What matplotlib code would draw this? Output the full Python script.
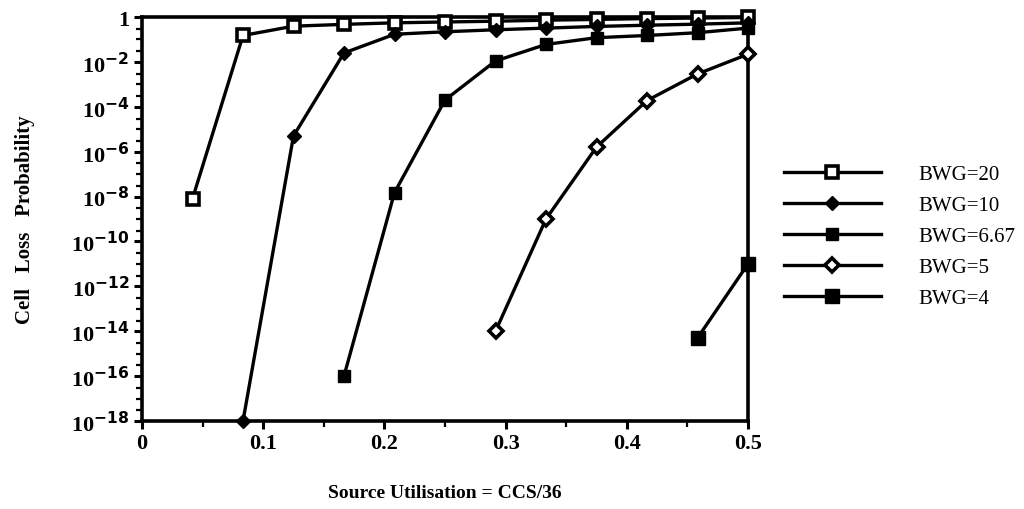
import matplotlib
matplotlib.use("Agg")
import matplotlib.pyplot as plt
from matplotlib.ticker import FixedLocator, LogLocator, NullFormatter, MultipleLocator

# Source utilisation (CCS/36) for CCS = 1.5, 3, ..., 18
util_20 = [1/24, 2/24, 3/24, 4/24, 5/24, 6/24, 7/24, 8/24, 9/24, 10/24, 11/24, 12/24]
clp_20 = [8e-9, 0.15, 0.39, 0.47, 0.55, 0.6, 0.65, 0.72, 0.78, 0.85, 0.9, 0.95]

util_10 = [2/24, 3/24, 4/24, 5/24, 6/24, 7/24, 8/24, 9/24, 10/24, 11/24, 12/24]
clp_10 = [1e-18, 5e-6, 0.025, 0.17, 0.22, 0.27, 0.32, 0.38, 0.43, 0.48, 0.55]

util_667 = [4/24, 5/24, 6/24, 7/24, 8/24, 9/24, 10/24, 11/24, 12/24]
clp_667 = [1e-16, 1.5e-8, 2e-4, 1.1e-2, 0.06, 0.12, 0.15, 0.2, 0.32]

util_5 = [7/24, 8/24, 9/24, 10/24, 11/24, 12/24]
clp_5 = [1e-14, 1e-9, 1.6e-6, 1.9e-4, 2.9e-3, 0.022]

util_4 = [11/24, 12/24]
clp_4 = [5e-15, 1e-11]

labels = ["BWG=20", "BWG=10", "BWG=6.67", "BWG=5", "BWG=4"]

x_ticks = [0, 0.1, 0.2, 0.3, 0.4, 0.5]
x_tick_labels = ["0", "0.1", "0.2", "0.3", "0.4", "0.5"]
y_exponents = [0, -2, -4, -6, -8, -10, -12, -14, -16, -18]

serif = ["Liberation Serif", "DejaVu Serif"]
plt.rcParams["font.family"] = serif

fig = plt.figure(figsize=(10.24, 5.10), dpi=100)
ax = fig.add_axes([142/1024, 1 - 422/510, (748 - 142)/1024, (422 - 18)/510])

lw = 2.4
common = dict(color="black", linewidth=lw, markeredgecolor="black")
series = [
    (util_20, clp_20, dict(marker="s", markersize=8, markerfacecolor="white", markeredgewidth=2.6)),
    (util_10, clp_10, dict(marker="D", markersize=7.5, markerfacecolor="black", markeredgewidth=1)),
    (util_667, clp_667, dict(marker="s", markersize=9, markerfacecolor="black", markeredgewidth=1)),
    (util_5, clp_5, dict(marker="D", markersize=7, markerfacecolor="white", markeredgewidth=2.6)),
    (util_4, clp_4, dict(marker="s", markersize=10, markerfacecolor="black", markeredgewidth=1)),
]
handles = []
for (xs, ys, style), lab in zip(series, labels):
    h, = ax.plot(xs, ys, label=lab, clip_on=False, zorder=3, **common, **style)
    handles.append(h)

ax.set_yscale("log")
ax.set_xlim(0, 0.5)
ax.set_ylim(1e-18, 1)

ax.xaxis.set_major_locator(FixedLocator(x_ticks))
ax.set_xticklabels(x_tick_labels)
ax.xaxis.set_minor_locator(MultipleLocator(0.05))

y_vals = [10.0 ** e for e in y_exponents]
ax.yaxis.set_major_locator(FixedLocator(y_vals))
ax.set_yticklabels(["1" if e == 0 else r"10$^{\mathbf{%d}}$" % e for e in y_exponents])
ax.yaxis.set_minor_locator(LogLocator(base=10, subs=[1.0, 3.0], numticks=50))
ax.yaxis.set_minor_formatter(NullFormatter())

for sp in ax.spines.values():
    sp.set_linewidth(2.6)

ax.tick_params(axis="both", which="major", direction="out", length=6, width=2.2,
               labelsize=16)
ax.tick_params(axis="x", which="major", pad=3)
ax.tick_params(axis="y", which="major", pad=3)
ax.tick_params(axis="both", which="minor", direction="out", length=4, width=1.6)
for t in ax.get_xticklabels() + ax.get_yticklabels():
    t.set_fontweight("bold")

ax.set_xlabel("Source Utilisation = CCS/36", fontsize=14, fontweight="bold", labelpad=22)
ax.set_ylabel("Cell   Loss   Probability", fontsize=15, fontweight="bold", labelpad=26)

leg = fig.legend(handles=handles, labels=labels, loc="upper left",
                 bbox_to_anchor=(765/1024, 1 - 147/510), frameon=False,
                 handlelength=4.65, handletextpad=1.8, labelspacing=0.55,
                 prop={"family": serif, "size": 15})

fig.savefig("out.png", dpi=100, facecolor="white")
